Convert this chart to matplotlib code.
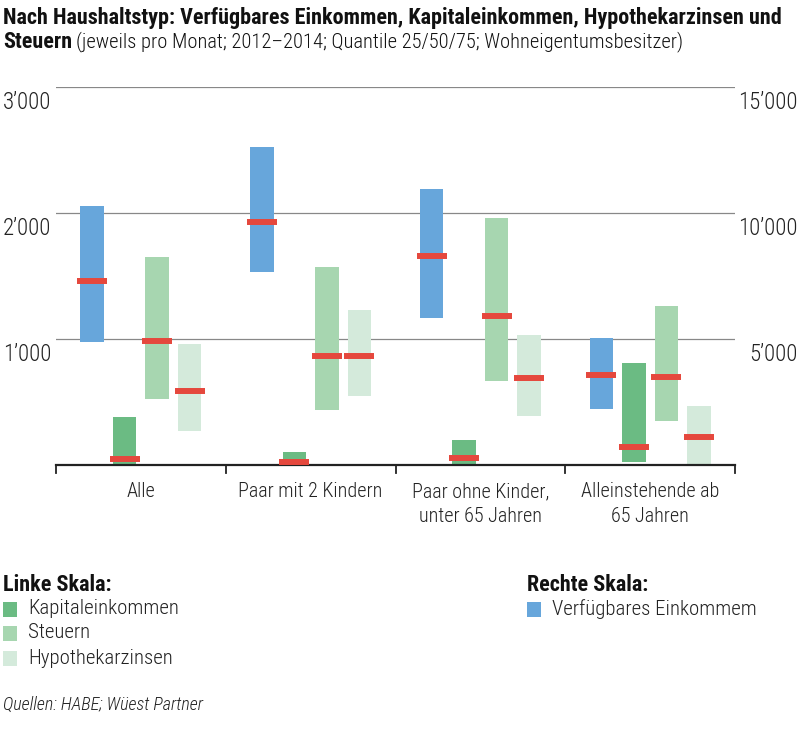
import matplotlib
matplotlib.use("Agg")
import matplotlib.pyplot as plt
from matplotlib.patches import Rectangle
import matplotlib.transforms as mtransforms
from matplotlib import font_manager

# ---------------- data ----------------
categories = ["Alle", "Paar mit 2 Kindern", "Paar ohne Kinder,\nunter 65 Jahren", "Alleinstehende ab\n65 Jahren"]

# right scale (CHF / month)
einkommen_q25 = [4890, 7670, 5850, 2240]
einkommen_q50 = [7310, 9640, 8290, 3560]
einkommen_q75 = [10290, 12610, 10950, 5030]

# left scale
kapital_q25 = [0, 0, 0, 20]
kapital_q50 = [45, 26, 53, 146]
kapital_q75 = [380, 106, 198, 810]

steuern_q25 = [526, 437, 669, 349]
steuern_q50 = [987, 868, 1185, 701]
steuern_q75 = [1653, 1574, 1958, 1262]

hypo_q25 = [272, 548, 391, 0]
hypo_q50 = [587, 862, 693, 222]
hypo_q75 = [960, 1230, 1032, 468]

left_ticks = [1000, 2000, 3000]
left_ticklabels = ["1\u2019000", "2\u2019000", "3\u2019000"]
right_ticks = [5000, 10000, 15000]
right_ticklabels = ["5\u2019000", "10\u2019000", "15\u2019000"]

# ---------------- style ----------------
C_BLUE = "#67a6db"
C_KAP = "#6bbb83"
C_STEU = "#a7d6b0"
C_HYPO = "#d4eadb"
C_RED = "#e5483d"

avail = {f.name for f in font_manager.fontManager.ttflist}
FONT = "DejaVu Sans"
for cand in ["Roboto Condensed", "Archivo Narrow", "Barlow Semi Condensed", "Asap Condensed",
             "Liberation Sans Narrow", "Roboto"]:
    if cand in avail:
        FONT = cand
        break
plt.rcParams["font.family"] = [FONT, "DejaVu Sans"]
LW = "light"

W, H = 801, 743
fig = plt.figure(figsize=(W / 100, H / 100), dpi=100)

def fx(px):
    return px / W

def fy(py):
    return 1 - py / H

ax_l, ax_r, ax_t, ax_b = 56, 735, 87, 465
ax = fig.add_axes([fx(ax_l), fy(ax_b), fx(ax_r - ax_l), (ax_b - ax_t) / H])
ax.set_xlim(0, 4)
ax.set_ylim(0, 3000)
ax2 = ax.twinx()
ax2.set_ylim(0, 15000)

for a in (ax, ax2):
    for s in a.spines.values():
        s.set_visible(False)
    a.set_yticks([])
    a.set_xticks([])
    a.patch.set_visible(False)

# grid lines
for t in left_ticks:
    ax.axhline(t, color="#888888", lw=0.9, zorder=1)
ax.axhline(0, color="#222222", lw=1.6, zorder=5, clip_on=False)
for g in range(5):
    ax.plot([g, g], [0, -60], color="#222222", lw=1.3, clip_on=False, zorder=5)

group_w = ax_r - ax_l
px2x = 4 / group_w
spacing = 32.5 * px2x
bar_w = 23.5 * px2x
med_w = 30 * px2x
offsets = [-1.5, -0.5, 0.5, 1.5]

def draw(axis, idx, q25, q50, q75, color):
    for i in range(4):
        x = i + 0.5 + offsets[idx] * spacing
        axis.bar(x, q75[i] - q25[i], bottom=q25[i], width=bar_w, color=color, zorder=2)
        axis.hlines(q50[i], x - med_w / 2, x + med_w / 2, color=C_RED, lw=4.3, zorder=6, capstyle="butt")

draw(ax2, 0, einkommen_q25, einkommen_q50, einkommen_q75, C_BLUE)
draw(ax, 1, kapital_q25, kapital_q50, kapital_q75, C_KAP)
draw(ax, 2, steuern_q25, steuern_q50, steuern_q75, C_STEU)
draw(ax, 3, hypo_q25, hypo_q50, hypo_q75, C_HYPO)

# tick labels
trL = mtransforms.blended_transform_factory(fig.transFigure, ax.transData)
for t, lab in zip(left_ticks, left_ticklabels):
    ax.text(fx(3), t - 35, lab, transform=trL, ha="left", va="top", fontsize=16.5, color="#222222",
            fontweight=LW)
trR = mtransforms.blended_transform_factory(fig.transFigure, ax2.transData)
for t, lab in zip(right_ticks, right_ticklabels):
    ax2.text(fx(798), t - 175, lab, transform=trR, ha="right", va="top", fontsize=16.5, color="#222222",
             fontweight=LW)

# category labels
trC = mtransforms.blended_transform_factory(ax.transData, fig.transFigure)
for i, c in enumerate(categories):
    ax.text(i + 0.5, fy(482), c, transform=trC, ha="center", va="top", fontsize=14.5,
            color="#222222", linespacing=1.42, fontweight=LW)

# title (fit first line to reference width)
title1 = fig.text(fx(3), fy(18), "Nach Haushaltstyp: Verfügbares Einkommen, Kapitaleinkommen, Hypothekarzinsen und",
                  ha="left", va="center", fontsize=14, fontweight="bold", color="#111111")
fig.canvas.draw()
r = fig.canvas.get_renderer()
w1 = title1.get_window_extent(r).width
tsize = min(17, 14 * 782 / w1)
title1.set_fontsize(tsize)
t1 = fig.text(fx(3), fy(42), "Steuern", ha="left", va="center", fontsize=tsize, fontweight="bold", color="#111111")
fig.canvas.draw()
bb = t1.get_window_extent(r)
sub = fig.text(bb.x1 / W + fx(4), fy(42), "(jeweils pro Monat; 2012\u20132014; Quantile 25/50/75; Wohneigentumsbesitzer)",
               ha="left", va="center", fontsize=tsize, color="#111111", fontweight=LW)
fig.canvas.draw()
ws = sub.get_window_extent(r).width
target = 683 - (bb.x1 + 4)
if ws > target:
    sub.set_fontsize(tsize * target / ws)

# legend
def legend_item(xp, yp, color, label):
    fig.patches.append(Rectangle((fx(xp), fy(yp + 7.5)), fx(14), 15 / H, transform=fig.transFigure,
                                 facecolor=color, edgecolor="none"))
    fig.text(fx(xp + 25), fy(yp), label, ha="left", va="center", fontsize=15, color="#222222",
             fontweight=LW)

fig.text(fx(3), fy(585), "Linke Skala:", ha="left", va="center", fontsize=tsize, fontweight="bold", color="#111111")
legend_item(3, 609, C_KAP, "Kapitaleinkommen")
legend_item(3, 633, C_STEU, "Steuern")
legend_item(3, 658, C_HYPO, "Hypothekarzinsen")
fig.text(fx(527), fy(585), "Rechte Skala:", ha="left", va="center", fontsize=tsize, fontweight="bold", color="#111111")
legend_item(527, 609, C_BLUE, "Verfügbares Einkommem")

fig.text(fx(3), fy(705), "Quellen: HABE; Wüest Partner", ha="left", va="center", fontsize=13,
         style="italic", color="#222222", fontweight=LW)

fig.savefig("out.png", dpi=100, facecolor="white")
